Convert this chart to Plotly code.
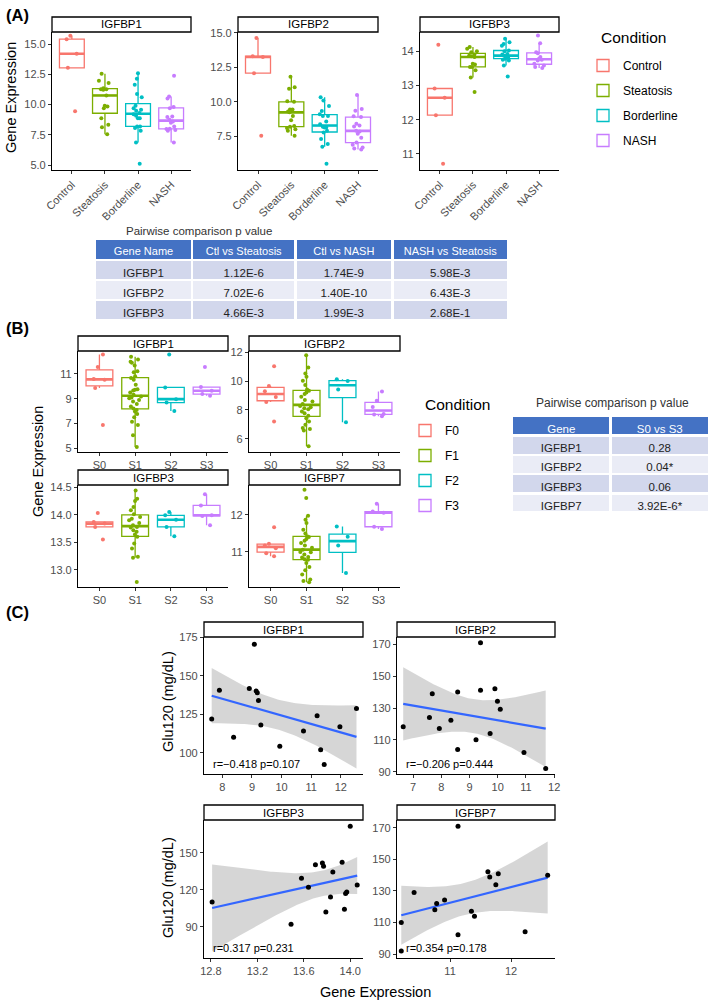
import numpy as np
import plotly.graph_objects as go

W, H = 709, 1004

# ---------------- data ----------------
conditions_a = ["Control", "Steatosis", "Borderline", "NASH"]
stages_b = ["S0", "S1", "S2", "S3"]
fibrosis_b = ["F0", "F1", "F2", "F3"]
colors = ["#F8766D", "#7CAE00", "#00BFC4", "#C77CFF"]

genes_a = ["IGFBP1", "IGFBP2", "IGFBP3"]
genes_b = ["IGFBP1", "IGFBP2", "IGFBP3", "IGFBP7"]
genes_c = ["IGFBP1", "IGFBP2", "IGFBP3", "IGFBP7"]

# (A) expression per condition: Control, Steatosis, Borderline, NASH
a_igfbp1 = [
    [15.69, 15.41, 14.2, 13.04, 9.45],
    [12.55, 11.97, 11.78, 11.36, 11.28, 11.23, 11.28, 10.76, 9.9, 9.85, 9.7, 8.88, 8.33, 8.14, 7.56],
    [12.6, 12.13, 11.64, 10.87, 10.62, 9.9, 9.71, 9.57, 9.5, 9.3, 9.2, 9.08, 8.88, 8.88, 8.2, 8.2,
     8.06, 7.84, 6.87, 5.11],
    [12.38, 10.67, 10.5, 9.8, 9.71, 9.02, 8.97, 8.75, 8.6, 8.5, 8.2, 8.0, 7.98, 7.9, 7.84, 6.87],
]
a_igfbp2 = [
    [14.62, 13.3, 13.24, 12.07, 7.55],
    [11.81, 11.05, 10.95, 10.05, 10.0, 9.45, 9.45, 9.3, 9.24, 8.98, 8.67, 8.26, 8.2, 8.1, 8.02, 7.9, 7.55],
    [10.33, 10.1, 9.69, 9.33, 9.1, 8.98, 8.98, 8.57, 8.38, 8.19, 8.14, 8.14, 7.9, 7.79, 7.31, 6.95,
     6.76, 5.52],
    [10.5, 9.48, 9.36, 8.95, 8.9, 8.41, 8.29, 8.21, 7.9, 7.85, 7.7, 7.4, 7.05, 6.9, 6.7, 6.62, 6.55],
]
a_igfbp3 = [
    [14.19, 12.91, 12.64, 12.13, 10.71],
    [14.12, 14.07, 14.0, 13.97, 13.9, 13.87, 13.85, 13.83, 13.63, 13.61, 13.54, 13.54, 13.44, 13.23, 12.81],
    [14.36, 14.26, 14.21, 14.16, 14.02, 14.0, 13.92, 13.9, 13.87, 13.85, 13.83, 13.8, 13.78, 13.75,
     13.73, 13.58, 13.26],
    [14.46, 14.23, 13.97, 13.94, 13.83, 13.78, 13.75, 13.73, 13.63, 13.58, 13.54, 13.51],
]

# (B) expression per stage: S0, S1, S2, S3
b_igfbp1 = [
    [12.58, 11.57, 10.59, 10.54, 9.86, 6.86],
    [12.39, 12.17, 11.98, 11.9, 11.68, 11.22, 11.14, 10.81, 10.67, 10.54, 10.13, 9.77, 9.72, 9.66, 9.5,
     9.31, 9.17, 9.1, 9.04, 8.9, 8.77, 8.57, 8.36, 8.2, 8.08, 7.95, 7.76, 7.49, 7.13, 6.86, 6.04, 5.09],
    [12.58, 9.91, 8.96, 8.68, 8.0],
    [11.57, 9.94, 9.64, 9.37, 9.23],
]
b_igfbp2 = [
    [11.02, 9.65, 9.3, 8.9, 8.55, 7.2],
    [11.77, 10.93, 10.52, 10.29, 10.01, 9.72, 9.42, 9.33, 9.2, 9.1, 8.92, 8.69, 8.58, 8.42, 8.28, 8.19,
     8.12, 8.05, 7.89, 7.78, 7.6, 7.43, 7.2, 6.98, 6.75, 6.68, 6.59, 5.5],
    [10.12, 10.0, 9.42, 7.15],
    [9.28, 8.64, 8.2, 7.72, 7.68, 7.57],
]
b_igfbp3 = [
    [14.03, 13.87, 13.84, 13.78, 13.55],
    [14.44, 14.29, 14.25, 14.14, 14.08, 14.01, 13.96, 13.93, 13.9, 13.85, 13.81, 13.78, 13.77, 13.72,
     13.69, 13.64, 13.6, 13.48, 13.39, 13.24, 13.22, 12.78],
    [14.05, 13.99, 13.91, 13.78, 13.61],
    [14.37, 14.17, 13.99, 13.98, 13.81],
]
b_igfbp7 = [
    [11.67, 11.22, 11.17, 11.1, 10.96, 10.88],
    [12.68, 12.46, 11.98, 11.87, 11.78, 11.6, 11.5, 11.42, 11.4, 11.35, 11.3, 11.24, 11.17, 11.11,
     11.06, 11.0, 10.99, 10.93, 10.86, 10.85, 10.8, 10.79, 10.7, 10.59, 10.5, 10.39, 10.25, 10.21, 10.18],
    [11.69, 11.41, 11.17, 10.43],
    [12.3, 12.09, 12.06, 11.68, 11.62],
]

# (C) Glu120 vs gene expression
c_igfbp1_x = [7.64, 7.9, 8.38, 8.91, 9.08, 9.14, 9.18, 9.22, 9.3, 9.94, 10.74, 11.2, 11.32, 11.44, 11.97, 12.53]
c_igfbp1_y = [121.9, 140.7, 110.1, 141.8, 170.5, 140.1, 139.0, 133.9, 118.0, 104.1, 114.1, 124.0, 101.9, 92.3,
              116.9, 128.7]
c_igfbp2_x = [6.65, 7.58, 7.68, 7.93, 8.34, 8.58, 8.58, 9.23, 9.39, 9.39, 9.73, 9.9, 9.99, 10.09, 10.93, 11.7]
c_igfbp2_y = [118.3, 124.1, 139.0, 117.2, 122.3, 140.1, 104.0, 110.1, 171.0, 141.1, 114.1, 142.1, 134.2, 129.2,
              102.1, 92.1]
c_igfbp3_x = [12.81, 13.49, 13.58, 13.64, 13.70, 13.76, 13.77, 13.79, 13.83, 13.85, 13.93, 13.95, 13.96, 13.97,
              14.0, 14.06]
c_igfbp3_y = [110.0, 91.9, 129.2, 121.9, 140.3, 141.6, 138.9, 101.9, 114.1, 134.3, 142.2, 104.1, 117.0, 118.1,
              171.4, 123.8]
c_igfbp7_x = [10.2, 10.2, 10.41, 10.75, 10.78, 10.91, 11.13, 11.13, 11.35, 11.4, 11.62, 11.65, 11.79, 11.75,
              12.23, 12.6]
c_igfbp7_y = [110.0, 92.0, 129.0, 118.1, 122.1, 124.2, 171.0, 102.3, 117.1, 114.0, 142.2, 138.8, 140.9, 134.0,
              104.1, 139.9]
c_labels = ["r=\u22120.418 p=0.107", "r=\u22120.206 p=0.444", "r=0.317 p=0.231", "r=0.354 p=0.178"]

# tick values / labels
a_yticks = [[5, 7.5, 10, 12.5, 15], [7.5, 10, 12.5, 15], [11, 12, 13, 14]]
a_yticklabels = [["5.0", "7.5", "10.0", "12.5", "15.0"], ["7.5", "10.0", "12.5", "15.0"], ["11", "12", "13", "14"]]
b_yticks = [[5, 7, 9, 11], [6, 8, 10, 12], [13.0, 13.5, 14.0, 14.5], [11, 12]]
b_yticklabels = [["5", "7", "9", "11"], ["6", "8", "10", "12"], ["13.0", "13.5", "14.0", "14.5"], ["11", "12"]]
c_xticks = [[8, 9, 10, 11, 12], [7, 8, 9, 10, 11, 12], [12.8, 13.2, 13.6, 14.0], [11, 12]]
c_xticklabels = [["8", "9", "10", "11", "12"], ["7", "8", "9", "10", "11", "12"],
                 ["12.8", "13.2", "13.6", "14.0"], ["11", "12"]]
c_yticks = [[100, 125, 150, 175], [90, 110, 130, 150, 170], [90, 120, 150], [90, 110, 130, 150, 170]]

# p-value tables
table_a_header = ["Gene Name", "Ctl vs Steatosis", "Ctl vs NASH", "NASH vs Steatosis"]
table_a_genes = ["IGFBP1", "IGFBP2", "IGFBP3"]
table_a_ctl_steatosis = ["1.12E-6", "7.02E-6", "4.66E-3"]
table_a_ctl_nash = ["1.74E-9", "1.40E-10", "1.99E-3"]
table_a_nash_steatosis = ["5.98E-3", "6.43E-3", "2.68E-1"]
table_b_header = ["Gene", "S0 vs S3"]
table_b_genes = ["IGFBP1", "IGFBP2", "IGFBP3", "IGFBP7"]
table_b_s0_s3 = ["0.28", "0.04*", "0.06", "3.92E-6*"]

# ---------------- layout geometry (pixels) ----------------
FONT = "Liberation Sans, Arial, sans-serif"
TICKFONT = dict(family=FONT, size=11, color="#4D4D4D")

# (x0, x1, top, bottom, yrange)
geo_a = [(52, 191, 32, 170, [4.6, 16.0]), (238, 378, 32, 170, [5.07, 15.05]),
         (420, 559, 32, 170, [10.53, 14.56])]
geo_b = [(78, 228, 351, 452, [4.68, 12.86]), (249, 400, 351, 452, [5.1, 12.07]),
         (78, 228, 485, 587, [12.69, 14.54]), (249, 400, 485, 587, [10.05, 12.81])]
# (x0, x1, top, bottom, xrange, yrange)
geo_c = [(204, 363, 637, 774, [7.38, 12.75], [86.1, 175.3]),
         (397, 555, 637, 774, [6.43, 12.03], [88.6, 174.6]),
         (204, 363, 820, 958, [12.74, 14.11], [64.6, 176.5]),
         (397, 555, 820, 958, [10.13, 12.72], [87.5, 175.0])]


def dom_x(a, b):
    return [a / W, b / W]


def dom_y(top, bottom):
    return [1 - bottom / H, 1 - top / H]


def tukey(v):
    v = np.asarray(v, dtype=float)
    q1, med, q3 = np.percentile(v, [25, 50, 75])
    iqr = q3 - q1
    lo = v[v >= q1 - 1.5 * iqr].min()
    hi = v[v <= q3 + 1.5 * iqr].max()
    return q1, med, q3, lo, hi


def t975(dof):
    # Cornish-Fisher expansion of the Student t quantile
    z = 1.959964
    return (z + (z**3 + z) / (4 * dof) + (5 * z**5 + 16 * z**3 + 3 * z) / (96 * dof**2)
            + (3 * z**7 + 19 * z**5 + 17 * z**3 - 15 * z) / (384 * dof**3))


def lm_band(x, y, n=80):
    x = np.asarray(x, dtype=float)
    y = np.asarray(y, dtype=float)
    b1, b0 = np.polyfit(x, y, 1)
    grid = np.linspace(x.min(), x.max(), n)
    fit = b0 + b1 * grid
    dof = len(x) - 2
    s = np.sqrt(((y - (b0 + b1 * x)) ** 2).sum() / dof)
    se = s * np.sqrt(1 / len(x) + (grid - x.mean()) ** 2 / ((x - x.mean()) ** 2).sum())
    t = t975(dof)
    return grid, fit, fit - t * se, fit + t * se


fig = go.Figure()
layout = {}
shapes = []
annotations = []


def axis_names(i):
    return ("xaxis" if i == 1 else f"xaxis{i}", "yaxis" if i == 1 else f"yaxis{i}",
            "x" if i == 1 else f"x{i}", "y" if i == 1 else f"y{i}")


def base_axis():
    return dict(showline=True, linecolor="black", linewidth=1.2, ticks="outside", ticklen=3,
                tickcolor="#333333", tickwidth=1, tickfont=TICKFONT, showgrid=False, zeroline=False,
                automargin=False)


def add_strip(x0, x1, top, label):
    shapes.append(dict(type="rect", xref="paper", yref="paper", x0=x0 / W, x1=x1 / W,
                       y0=1 - top / H, y1=1 - (top - 15) / H,
                       line=dict(color="black", width=1.3), fillcolor="white"))
    annotations.append(dict(text=label, xref="paper", yref="paper", x=(x0 + x1) / 2 / W,
                            y=1 - (top - 7.5) / H, showarrow=False, xanchor="center", yanchor="middle",
                            font=dict(family=FONT, size=11.5, color="black")))


def add_box_panel(i, geo, gene, groups, cats, yticks, yticklabels, legend, show_legend, tickangle):
    x0, x1, top, bottom, yr = geo
    xa, ya, xr, yref = axis_names(i)
    for cat, vals, col in zip(cats, groups, colors):
        q1, med, q3, lo, hi = tukey(vals)
        fig.add_trace(go.Box(
            x=[cat], q1=[q1], median=[med], q3=[q3], lowerfence=[lo], upperfence=[hi],
            xaxis=xr, yaxis=yref, name=cat, legendgroup=f"{legend}-{cat}", legend=legend,
            showlegend=show_legend, line=dict(color=col, width=1.3), fillcolor="rgba(255,255,255,0)",
            whiskerwidth=0, hoverinfo="skip"))
        # thicker median bar, as in ggplot
        fig.add_trace(go.Box(
            x=[cat], q1=[med], median=[med], q3=[med], lowerfence=[med], upperfence=[med],
            xaxis=xr, yaxis=yref, showlegend=False, legend=legend,
            line=dict(color=col, width=2.6), fillcolor="rgba(255,255,255,0)",
            whiskerwidth=0, hoverinfo="skip"))
        # jittered sample points
        fig.add_trace(go.Box(
            x=[cat] * len(vals), y=vals, xaxis=xr, yaxis=yref, showlegend=False, legend=legend,
            boxpoints="all", jitter=0.5, pointpos=0,
            marker=dict(color=col, size=4), line=dict(color="rgba(0,0,0,0)", width=0),
            fillcolor="rgba(0,0,0,0)", hoverinfo="skip"))
    xaxis = base_axis()
    xaxis.update(domain=dom_x(x0, x1), anchor=yref, type="category", categoryorder="array",
                 categoryarray=cats, range=[-0.6, len(cats) - 0.4], tickangle=tickangle)
    yaxis = base_axis()
    yaxis.update(domain=dom_y(top, bottom), anchor=xr, range=yr, tickvals=yticks, ticktext=yticklabels)
    layout[xa] = xaxis
    layout[ya] = yaxis
    add_strip(x0, x1, top, gene)


# ---------------- panel A ----------------
for k, (gene, groups) in enumerate(zip(genes_a, [a_igfbp1, a_igfbp2, a_igfbp3])):
    add_box_panel(k + 1, geo_a[k], gene, groups, conditions_a, a_yticks[k], a_yticklabels[k],
                  "legend", k == 0, -45)

# ---------------- panel B ----------------
for k, (gene, groups) in enumerate(zip(genes_b, [b_igfbp1, b_igfbp2, b_igfbp3, b_igfbp7])):
    add_box_panel(k + 4, geo_b[k], gene, groups, stages_b, b_yticks[k], b_yticklabels[k],
                  "legend2", k == 0, 0)
# legend entries of panel B are named by fibrosis grade
for tr in fig.data:
    if tr.legend == "legend2" and tr.showlegend:
        tr.name = fibrosis_b[stages_b.index(tr.x[0])]

# ---------------- panel C ----------------
c_data = [(c_igfbp1_x, c_igfbp1_y), (c_igfbp2_x, c_igfbp2_y), (c_igfbp3_x, c_igfbp3_y),
          (c_igfbp7_x, c_igfbp7_y)]
for k, (gene, (xs, ys)) in enumerate(zip(genes_c, c_data)):
    i = k + 8
    x0, x1, top, bottom, xrng, yrng = geo_c[k]
    xa, ya, xr, yref = axis_names(i)
    grid, fit, lower, upper = lm_band(xs, ys)
    fig.add_trace(go.Scatter(
        x=np.concatenate([grid, grid[::-1]]), y=np.concatenate([upper, lower[::-1]]),
        fill="toself", fillcolor="rgba(153,153,153,0.4)", line=dict(width=0, color="rgba(0,0,0,0)"),
        mode="lines", xaxis=xr, yaxis=yref, showlegend=False, hoverinfo="skip"))
    fig.add_trace(go.Scatter(
        x=grid, y=fit, mode="lines", line=dict(color="#3366FF", width=2.2),
        xaxis=xr, yaxis=yref, showlegend=False, hoverinfo="skip"))
    fig.add_trace(go.Scatter(
        x=xs, y=ys, mode="markers", marker=dict(color="black", size=5),
        xaxis=xr, yaxis=yref, showlegend=False))
    xaxis = base_axis()
    xaxis.update(domain=dom_x(x0, x1), anchor=yref, range=xrng, tickvals=c_xticks[k],
                 ticktext=c_xticklabels[k])
    yaxis = base_axis()
    yaxis.update(domain=dom_y(top, bottom), anchor=xr, range=yrng, tickvals=c_yticks[k])
    layout[xa] = xaxis
    layout[ya] = yaxis
    add_strip(x0, x1, top, gene)
    annotations.append(dict(text=c_labels[k], xref="paper", yref="paper", x=(x0 + 7) / W,
                            y=1 - (bottom - 10) / H, xanchor="left", yanchor="middle", showarrow=False,
                            font=dict(family=FONT, size=11, color="black")))

# ---------------- tables ----------------
row_a = ["#D2D7EC", "#EAECF6", "#D2D7EC"]
fig.add_trace(go.Table(
    domain=dict(x=dom_x(95, 508), y=dom_y(239, 332)),
    columnwidth=[0.94, 1.0, 0.94, 1.12],
    header=dict(values=table_a_header, fill_color="#4472C4", height=21,
                line=dict(color="white", width=2.5),
                font=dict(family=FONT, size=11, color="white"), align="center"),
    cells=dict(values=[table_a_genes, table_a_ctl_steatosis, table_a_ctl_nash, table_a_nash_steatosis],
               fill_color=[row_a] * 4, height=20, line=dict(color="white", width=2.5),
               font=dict(family=FONT, size=11.5, color="#222222"), align="center")))

row_b = ["#D2D7EC", "#EAECF6", "#D2D7EC", "#EAECF6"]
fig.add_trace(go.Table(
    domain=dict(x=dom_x(512, 709), y=dom_y(416, 518)),
    columnwidth=[1, 1],
    header=dict(values=table_b_header, fill_color="#4472C4", height=19.5,
                line=dict(color="white", width=2.5),
                font=dict(family=FONT, size=11.5, color="white"), align="center"),
    cells=dict(values=[table_b_genes, table_b_s0_s3], fill_color=[row_b] * 2, height=19.3,
               line=dict(color="white", width=2.5),
               font=dict(family=FONT, size=11.5, color="#222222"), align="center")))


# ---------------- text ----------------
def text(label, x, y, size, angle=0, anchor="center", bold=False, color="black"):
    annotations.append(dict(text=f"<b>{label}</b>" if bold else label, xref="paper", yref="paper",
                            x=x / W, y=1 - y / H, xanchor=anchor, yanchor="middle", showarrow=False,
                            textangle=angle, font=dict(family=FONT, size=size, color=color)))


text("(A)", 4, 15, 16.5, anchor="left", bold=True)
text("(B)", 4, 328, 16.5, anchor="left", bold=True)
text("(C)", 4, 612, 16.5, anchor="left", bold=True)
text("Gene Expression", 11, 98, 14.5, angle=-90)
text("Gene Expression", 38, 462, 14.5, angle=-90)
text("Glu120 (mg/dL)", 168, 702, 14.5, angle=-90)
text("Glu120 (mg/dL)", 168, 888, 14.5, angle=-90)
text("Gene Expression", 376, 992, 14.5)
text("Pairwise comparison p value", 124, 231, 11.5, anchor="left", color="#333333")
text("Pairwise comparison p value", 534, 403, 12, anchor="left", color="#333333")
text("Condition", 599, 38, 15.5, anchor="left")
text("Condition", 423, 404, 15.5, anchor="left")

legend_style = dict(xanchor="left", yanchor="top", bgcolor="rgba(0,0,0,0)", tracegroupgap=6,
                    itemwidth=30, font=dict(family=FONT, size=12, color="black"))
fig.update_layout(
    width=W, height=H, margin=dict(l=0, r=0, t=0, b=0, autoexpand=False),
    paper_bgcolor="white", plot_bgcolor="white",
    font=dict(family=FONT),
    boxgap=0.25, boxgroupgap=0, boxmode="overlay",
    shapes=shapes, annotations=annotations,
    legend=dict(x=583 / W, y=1 - 51 / H, **legend_style),
    legend2=dict(x=405 / W, y=1 - 416 / H, **legend_style),
    **layout,
)

# drop the browser's default page margin so the figure sits at the window origin
fig.write_html("out.html", config={"displayModeBar": False},
               post_script="document.body.style.margin='0';")
